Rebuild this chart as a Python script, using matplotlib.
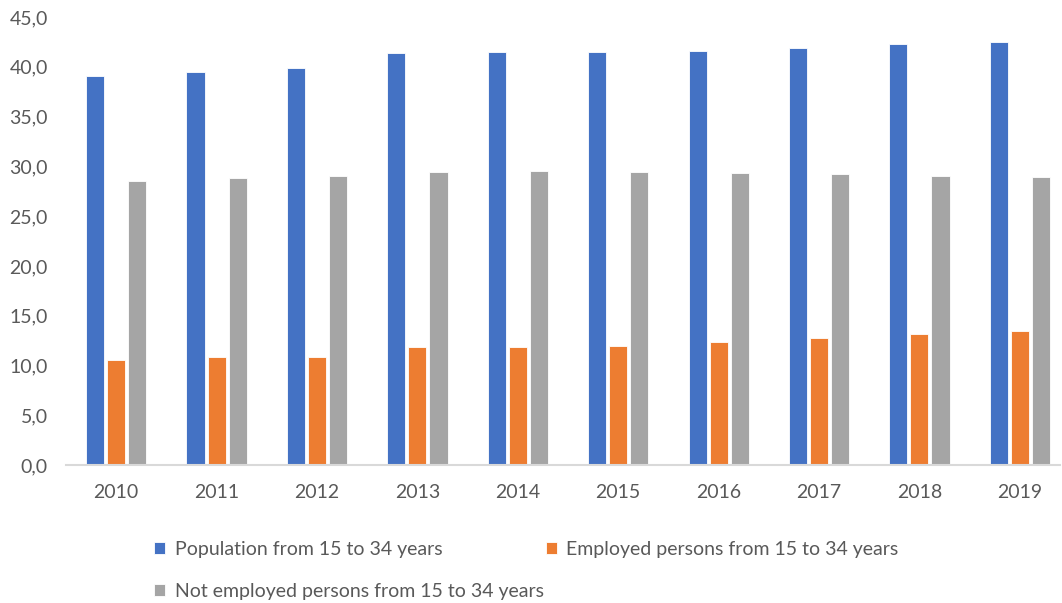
import matplotlib
matplotlib.use("Agg")
import matplotlib.pyplot as plt
import numpy as np

years = ['2010', '2011', '2012', '2013', '2014', '2015', '2016', '2017', '2018', '2019']
population = [39.1, 39.5, 39.9, 41.4, 41.5, 41.5, 41.6, 41.9, 42.3, 42.5]
employed = [10.5, 10.8, 10.8, 11.9, 11.9, 12.0, 12.4, 12.8, 13.2, 13.5]
not_employed = [28.5, 28.8, 29.0, 29.4, 29.5, 29.4, 29.3, 29.2, 29.0, 28.9]

labels = ['Population from 15 to 34 years',
          'Employed persons from 15 to 34 years',
          'Not employed persons from 15 to 34 years']
colors = ['#4472C4', '#ED7D31', '#A5A5A5']

plt.rcParams['font.family'] = ['Lato', 'DejaVu Sans']
text_color = '#595959'

fig = plt.figure(figsize=(10.62, 6.03), dpi=100)
ax = fig.add_axes([66 / 1062, 138 / 603, 994 / 1062, 448 / 603])

x = np.arange(len(years))
w = 0.18
off = 0.21
handles = []
for i, (vals, col) in enumerate(zip([population, employed, not_employed], colors)):
    b = ax.bar(x + (i - 1) * off, vals, width=w, color=col, edgecolor='white',
               linewidth=0.6, label=labels[i], zorder=2)
    handles.append(b)

ax.set_xlim(-0.5, 9.4)
ax.set_ylim(0, 45)
ax.set_yticks(np.arange(0, 46, 5))
ax.set_yticklabels([f'{v:.1f}'.replace('.', ',') for v in np.arange(0, 46, 5)])
ax.set_xticks(x)
ax.set_xticklabels(years)
ax.tick_params(axis='both', length=0, labelsize=14, colors=text_color)
ax.tick_params(axis='x', pad=14)
ax.tick_params(axis='y', pad=13)

for s in ['top', 'right', 'left']:
    ax.spines[s].set_visible(False)
ax.spines['bottom'].set_color('#D9D9D9')
ax.spines['bottom'].set_linewidth(1.5)

# legend: column-major order so pop/employed share the first row
order = [0, 2, 1]
fig.legend(handles=[handles[i] for i in order], labels=[labels[i] for i in order],
           ncol=2, loc='upper left', bbox_to_anchor=(0.129, 0.132), frameon=False,
           fontsize=14, labelcolor=text_color, handlelength=0.55, handleheight=0.55,
           handletextpad=0.5, columnspacing=0.1, labelspacing=1.3)

fig.savefig('out.png', dpi=100)
